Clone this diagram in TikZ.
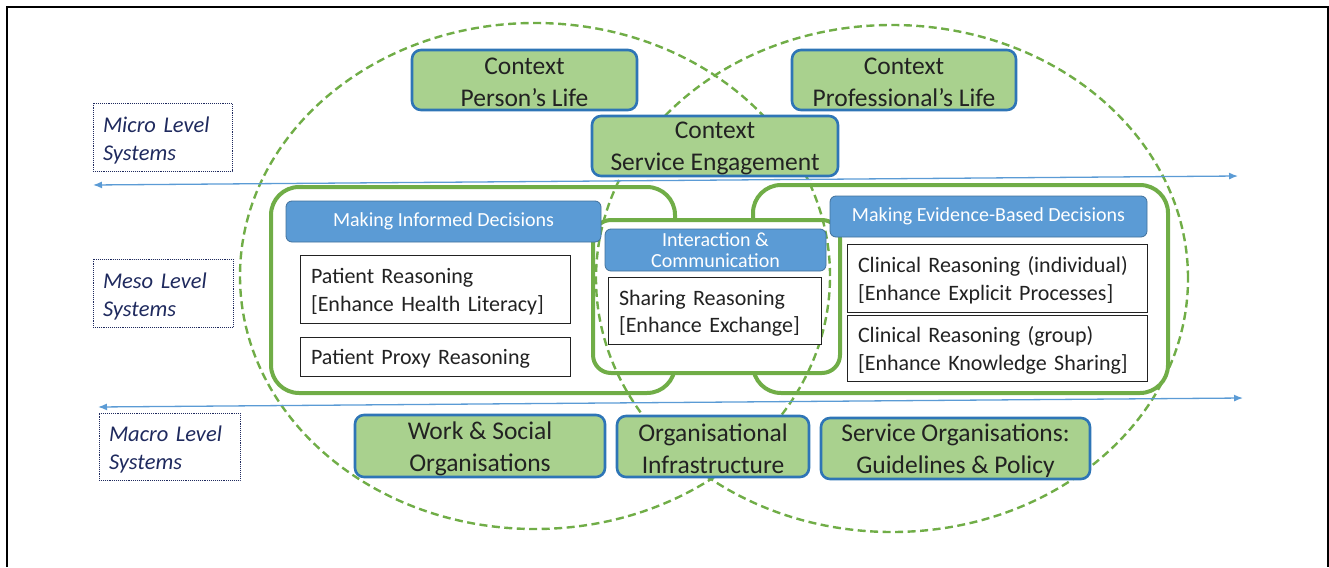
\documentclass[tikz,border=0pt]{standalone}
\usepackage{fontspec}
\setmainfont{Carlito}
\usetikzlibrary{arrows.meta}
\definecolor{ctxgreen}{HTML}{A9D18E}
\definecolor{ctxblue}{HTML}{2E75B6}
\definecolor{hdrblue}{HTML}{5B9BD5}
\definecolor{hdrborder}{HTML}{41719C}
\definecolor{shapegreen}{HTML}{70AD47}
\definecolor{navy}{HTML}{1F2A5E}
\definecolor{arrowblue}{HTML}{5B9BD5}
\definecolor{txt}{HTML}{222222}
\newcommand{\toppad}[1]{\rule{0pt}{#1}}
\begin{document}
\begin{tikzpicture}[x=1pt,y=-1pt,
 ctx/.style={draw=ctxblue, line width=2.6pt, fill=ctxgreen, rounded corners=9pt, align=center, inner sep=0pt, text=txt, font=\fontsize{25.5}{32}\selectfont},
 hdr/.style={draw=hdrborder, line width=0.8pt, fill=hdrblue, rounded corners=6pt, align=center, inner sep=0pt, text=white, font=\fontsize{20}{20.5}\selectfont},
 tbox/.style={draw=txt, line width=1pt, fill=white, align=left, inner xsep=11pt, inner ysep=0pt, text=txt, font=\fontsize{22}{27.5}\selectfont, execute at begin node={\rule{0pt}{20.5pt}}},
 lvl/.style={draw=navy, densely dotted, line width=0.9pt, align=left, inner xsep=10pt, inner ysep=0pt, text=navy, font=\fontsize{22.5}{28}\selectfont\itshape, execute at begin node={\rule{0pt}{22pt}}},
 zone/.style={draw=shapegreen, line width=4pt, rounded corners=28pt},
 venn/.style={draw=shapegreen, line width=2.4pt, dash pattern=on 8pt off 4.5pt},
 axis/.style={draw=arrowblue, line width=1.3pt, {Latex[length=9pt,width=7pt]}-{Latex[length=9pt,width=7pt]}}
]
\useasboundingbox (0,0) rectangle (1329,567);

% zones
\draw[zone] (271,187) rectangle (675,393);
\draw[zone] (753,185) rectangle (1168,393);
\draw[zone, fill=white, rounded corners=18pt] (593,220) rectangle (840,373);

% venn ellipses
\draw[venn] (535,276) ellipse [x radius=295pt, y radius=253pt];
\draw[venn] (892,278.5) ellipse [x radius=296pt, y radius=253.5pt];

% axes
\coordinate (a1l) at (93,185);
\coordinate (a1r) at (1238,176);
\coordinate (a2l) at (98,407);
\coordinate (a2r) at (1243,398);
\draw[axis] (a1l) -- (a1r);
\draw[axis] (a2l) -- (a2r);

% level labels
\node[lvl, text width=119pt, minimum height=68pt] (micro) at (162.5,137) {Micro Level\\Systems};
\node[lvl, text width=120pt, minimum height=68pt] (meso) at (163,293) {Meso Level\\Systems};
\node[lvl, text width=121pt, minimum height=67pt] (macro) at (169.5,446.5) {Macro Level\\Systems};

% context boxes
\node[ctx, minimum width=225pt, minimum height=60pt] (person) at (524.5,80) {\toppad{21pt}Context\\Person’s Life};
\node[ctx, minimum width=224pt, minimum height=60pt] (prof) at (904,80) {\toppad{21pt}Context\\Professional’s Life};
\node[ctx, minimum width=246pt, minimum height=60pt] (service) at (715,146) {\toppad{21pt}Context\\Service Engagement};

% headers
\node[hdr, minimum width=315pt, minimum height=41pt] (informed) at (443.5,221.5) {Making Informed Decisions};
\node[hdr, minimum width=317pt, minimum height=41pt] (evidence) at (988.5,216.5) {Making Evidence-Based Decisions};
\node[hdr, minimum width=221pt, minimum height=42pt] (interact) at (715.5,250) {Interaction \&\\Communication};

% text boxes
\node[tbox, text width=248pt, minimum height=68pt] (patient) at (435,289) {Patient Reasoning\\{[}Enhance Health Literacy{]}};
\node[tbox, text width=248pt, minimum height=39pt] (proxy) at (435,356.5) {Patient Proxy Reasoning};
\node[tbox, text width=191pt, minimum height=67pt] (sharing) at (714.5,310.5) {Sharing Reasoning\\{[}Enhance Exchange{]}};
\node[tbox, text width=278pt, minimum height=68pt] (clinind) at (997,278) {Clinical Reasoning (individual)\\{[}Enhance Explicit Processes{]}};
\node[tbox, text width=278pt, minimum height=66pt] (clingrp) at (997,348) {Clinical Reasoning (group)\\{[}Enhance Knowledge Sharing{]}};

% bottom boxes
\node[ctx, minimum width=250pt, minimum height=62pt] (work) at (480,446) {\toppad{24pt}Work \& Social\\Organisations};
\node[ctx, minimum width=192pt, minimum height=61pt] (infra) at (713,446.5) {\toppad{22pt}Organisational\\Infrastructure};
\node[ctx, minimum width=269pt, minimum height=61pt] (policy) at (955.5,448.5) {\toppad{23pt}Service Organisations:\\Guidelines \& Policy};

% frame
\draw[line width=2pt] (7,567) -- (7,7) -- (1328,7) -- (1328,567);
\end{tikzpicture}
\end{document}
